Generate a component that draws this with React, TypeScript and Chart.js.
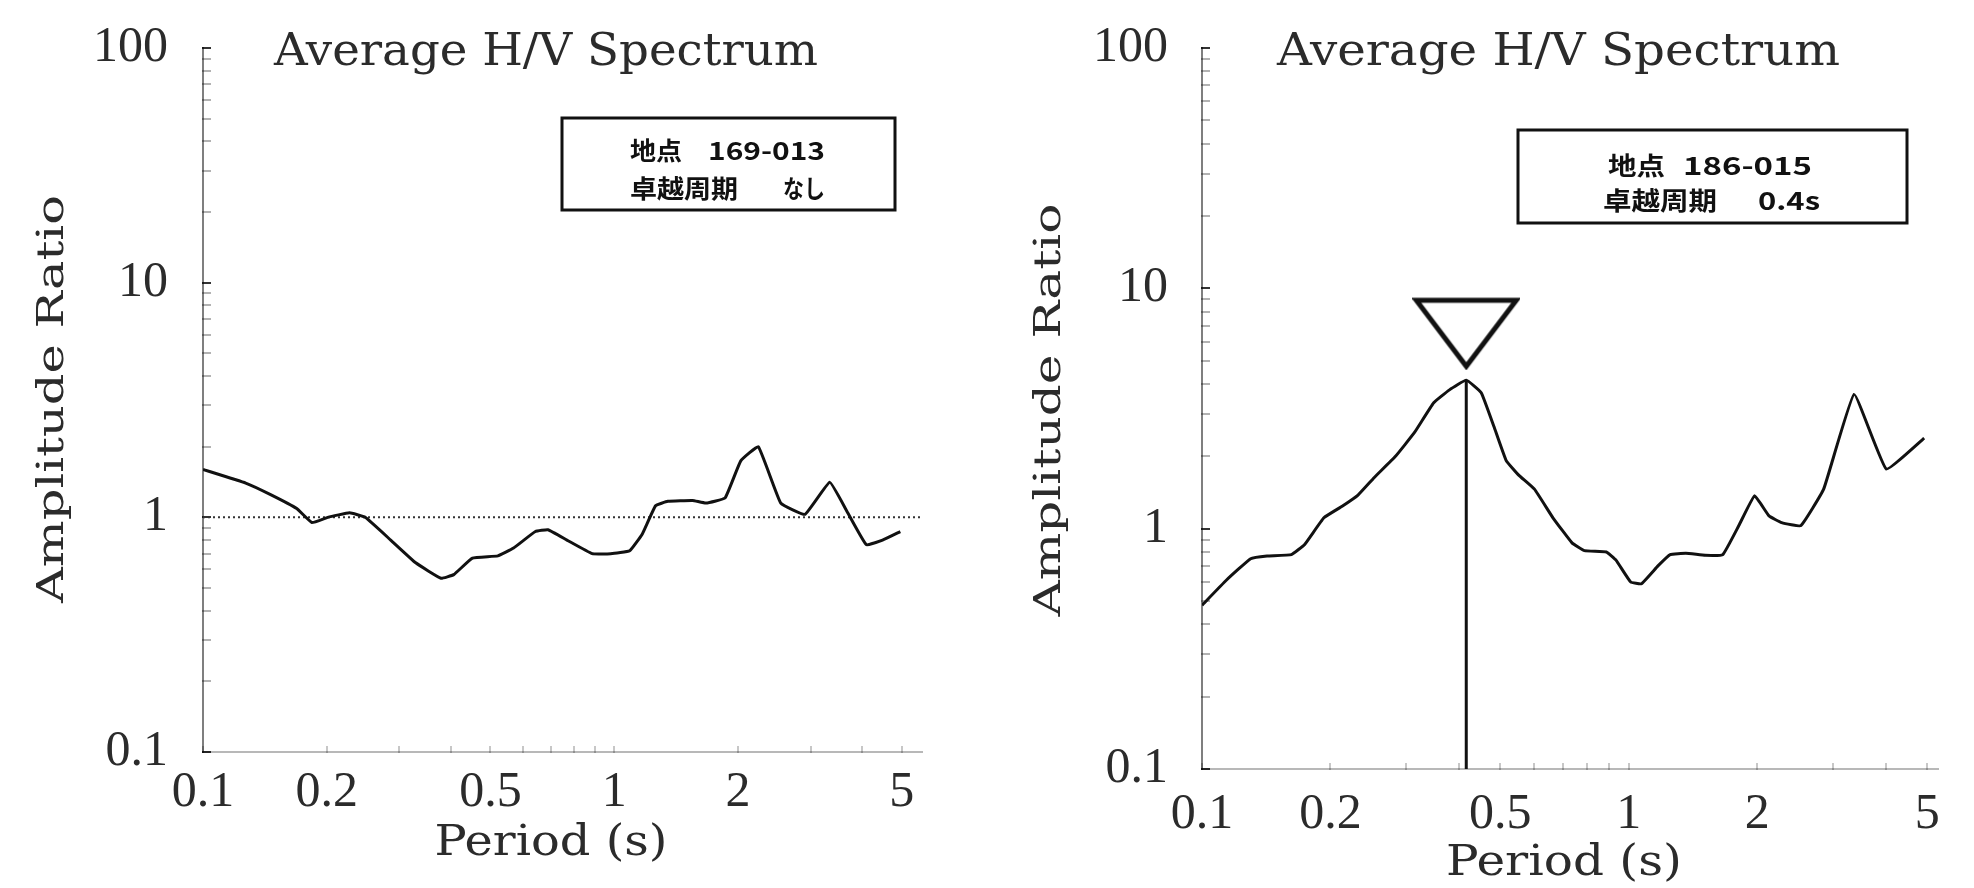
import React, { useEffect, useRef } from "react";
import { Chart, registerables } from "chart.js";

Chart.register(...registerables);

// ---------------- data ----------------
const leftPeriods = [0.1, 0.127, 0.146, 0.169, 0.184, 0.201, 0.227, 0.248, 0.286, 0.329, 0.379, 0.407, 0.452, 0.521, 0.569, 0.643, 0.69, 0.767, 0.884, 0.98, 1.09, 1.17, 1.26, 1.35, 1.55, 1.67, 1.86, 2.03, 2.24, 2.54, 2.91, 3.34, 3.68, 4.1, 4.49, 4.96];
const leftValues = [1.6, 1.4, 1.25, 1.09, 0.95, 1.0, 1.045, 1.0, 0.8, 0.64, 0.55, 0.57, 0.67, 0.685, 0.74, 0.87, 0.885, 0.8, 0.7, 0.7, 0.72, 0.85, 1.12, 1.17, 1.18, 1.15, 1.21, 1.74, 2.0, 1.15, 1.03, 1.41, 1.06, 0.765, 0.8, 0.87];

const rightPeriods = [0.1, 0.114, 0.13, 0.142, 0.162, 0.174, 0.193, 0.213, 0.232, 0.253, 0.284, 0.315, 0.349, 0.38, 0.416, 0.451, 0.483, 0.516, 0.552, 0.601, 0.664, 0.736, 0.787, 0.886, 0.933, 1.01, 1.07, 1.17, 1.25, 1.36, 1.51, 1.66, 1.81, 1.97, 2.13, 2.28, 2.53, 2.86, 3.37, 4.01, 4.92];
const rightValues = [0.48, 0.61, 0.75, 0.77, 0.78, 0.86, 1.11, 1.24, 1.38, 1.63, 2.0, 2.52, 3.34, 3.78, 4.15, 3.68, 2.66, 1.92, 1.67, 1.46, 1.11, 0.873, 0.81, 0.8, 0.74, 0.6, 0.59, 0.7, 0.78, 0.79, 0.775, 0.78, 1.03, 1.37, 1.13, 1.06, 1.03, 1.46, 3.62, 1.77, 2.38];

const yTickValues = [0.1, 1, 10, 100];
const xTickValues = [0.1, 0.2, 0.5, 1, 2, 5];

const leftReferenceLevel = [1];
const rightPeakPeriod = [0.416];
const rightPeakValue = [4.15];
const rightMarkerValue = [6.5];

const titleText = "Average H/V Spectrum";
const xTitleText = "Period (s)";
const yTitleText = "Amplitude Ratio";
const leftInfo = ["地点", "169-013", "卓越周期", "なし"];
const rightInfo = ["地点", "186-015", "卓越周期", "0.4s"];

// ---------------- styling / layout ----------------
const SERIF = '"DejaVu Serif", serif';
const TICKSERIF = '"Liberation Serif", "DejaVu Serif", serif';
const GOTHIC = '"Noto Sans CJK JP", "Noto Sans", sans-serif';
const TEXT = "#2b2b2b";

type Spec = {
  left: number;
  width: number;
  height: number;
  area: { left: number; right: number; top: number; bottom: number };
  xMax: number;
  xTickPad: number;
  yTickPad: number;
  periods: number[];
  values: number[];
  title: { x: number; y: number; w: number };
  xTitle: { x: number; y: number; w: number };
  yTitle: { x: number; y: number; w: number };
  box: { x1: number; y1: number; x2: number; y2: number };
  info: string[];
  infoPos: { y1: number; y2: number; aX: number; aW: number; bR: number; bW: number; cX: number; cW: number; dR: number; dW: number };
  reference: boolean;
  peak: boolean;
};

const leftSpec: Spec = {
  left: 0,
  width: 987,
  height: 888,
  area: { left: 203, right: 922, top: 48, bottom: 752 },
  xMax: 5.6,
  xTickPad: 17,
  yTickPad: 43,
  periods: leftPeriods,
  values: leftValues,
  title: { x: 274, y: 54, w: 544 },
  xTitle: { x: 551, y: 844, w: 233 },
  yTitle: { x: 53, y: 399, w: 408 },
  box: { x1: 562, y1: 118, x2: 895, y2: 210 },
  info: leftInfo,
  infoPos: { y1: 150, y2: 188, aX: 630, aW: 52, bR: 825, bW: 117, cX: 630, cW: 108, dR: 825, dW: 42 },
  reference: true,
  peak: false,
};

const rightSpec: Spec = {
  left: 987,
  width: 987,
  height: 888,
  area: { left: 215, right: 951, top: 48, bottom: 769 },
  xMax: 5.3,
  xTickPad: 22,
  yTickPad: 42,
  periods: rightPeriods,
  values: rightValues,
  title: { x: 290, y: 54, w: 563 },
  xTitle: { x: 577, y: 864, w: 236 },
  yTitle: { x: 63, y: 410, w: 413 },
  box: { x1: 531, y1: 130, x2: 920, y2: 223 },
  info: rightInfo,
  infoPos: { y1: 165, y2: 200, aX: 621, aW: 57, bR: 825, bW: 129, cX: 616, cW: 114, dR: 833, dW: 62 },
  reference: false,
  peak: true,
};

function fitText(
  ctx: CanvasRenderingContext2D,
  text: string,
  x: number,
  y: number,
  width: number,
  font: string,
  align: CanvasTextAlign,
  rotate = 0
) {
  ctx.save();
  ctx.font = font;
  const natural = ctx.measureText(text).width || 1;
  ctx.translate(x, y);
  ctx.rotate(rotate);
  ctx.scale(width / natural, 1);
  ctx.textAlign = align;
  ctx.textBaseline = "middle";
  ctx.fillText(text, 0, 0);
  ctx.restore();
}

const annotPlugin = {
  id: "annot",
  afterDraw(chart: any, _args: any, opts: any) {
    const s: Spec = opts.spec;
    const ctx: CanvasRenderingContext2D = chart.ctx;
    ctx.save();
    ctx.fillStyle = TEXT;
    fitText(ctx, titleText, s.title.x, s.title.y, s.title.w, `44px ${SERIF}`, "left");
    fitText(ctx, xTitleText, s.xTitle.x, s.xTitle.y, s.xTitle.w, `42px ${SERIF}`, "center");
    fitText(ctx, yTitleText, s.yTitle.x, s.yTitle.y, s.yTitle.w, `38px ${SERIF}`, "center", -Math.PI / 2);

    // info box
    ctx.strokeStyle = "#111";
    ctx.lineWidth = 3;
    ctx.strokeRect(s.box.x1, s.box.y1, s.box.x2 - s.box.x1, s.box.y2 - s.box.y1);
    ctx.fillStyle = "#111";
    const f = `bold 25px ${GOTHIC}`;
    const p = s.infoPos;
    fitText(ctx, s.info[0], p.aX, p.y1, p.aW, f, "left");
    fitText(ctx, s.info[1], p.bR, p.y1, p.bW, f, "right");
    fitText(ctx, s.info[2], p.cX, p.y2, p.cW, f, "left");
    fitText(ctx, s.info[3], p.dR, p.y2, p.dW, f, "right");
    ctx.restore();
  },
};

function makeTriangle(): HTMLCanvasElement {
  const c = document.createElement("canvas");
  c.width = 108;
  c.height = 74;
  const g = c.getContext("2d")!;
  g.lineWidth = 5;
  g.lineJoin = "miter";
  g.strokeStyle = "#111";
  g.fillStyle = "#fff";
  g.beginPath();
  g.moveTo(4, 4);
  g.lineTo(104, 4);
  g.lineTo(54, 70);
  g.closePath();
  g.fill();
  g.stroke();
  return c;
}

function decadeTicks(min: number, max: number) {
  const out: { value: number }[] = [];
  for (let e = Math.floor(Math.log10(min)); e <= Math.ceil(Math.log10(max)); e++) {
    for (let m = 1; m <= 9; m++) {
      const v = +(m * Math.pow(10, e)).toPrecision(6);
      if (v >= min * 0.9999 && v <= max * 1.0001) out.push({ value: v });
    }
  }
  return out;
}

function matchTick(list: number[], v: number) {
  const t = list.find((t) => Math.abs(t - v) < t * 1e-6);
  return t === undefined ? "" : String(t);
}

function Panel({ spec }: { spec: Spec }) {
  const ref = useRef<HTMLCanvasElement | null>(null);
  useEffect(() => {
    if (!ref.current) return;
    const s = spec;
    const datasets: any[] = [
      {
        data: s.periods.map((x, i) => ({ x, y: s.values[i] })),
        borderColor: "#111",
        borderWidth: 3,
        pointRadius: 0,
        tension: 0.1,
        fill: false,
      },
    ];
    if (s.reference) {
      datasets.push({
        data: [
          { x: 0.1, y: leftReferenceLevel[0] },
          { x: s.xMax, y: leftReferenceLevel[0] },
        ],
        borderColor: "#333",
        borderWidth: 2,
        borderDash: [2, 3],
        pointRadius: 0,
      });
    }
    if (s.peak) {
      datasets.push({
        data: [
          { x: rightPeakPeriod[0], y: rightPeakValue[0] },
          { x: rightPeakPeriod[0], y: 0.1 },
        ],
        borderColor: "#111",
        borderWidth: 3,
        pointRadius: 0,
      });
      datasets.push({
        data: [{ x: rightPeakPeriod[0], y: rightMarkerValue[0] }],
        showLine: false,
        pointStyle: makeTriangle(),
        pointRadius: 10,
      });
    }
    const chart = new Chart(ref.current, {
      type: "line",
      data: { datasets },
      plugins: [annotPlugin as any],
      options: {
        responsive: false,
        animation: false,
        events: [],
        layout: {
          padding: { left: 0, top: s.area.top, right: s.width - s.area.right, bottom: 0 },
        },
        plugins: {
          legend: { display: false },
          tooltip: { enabled: false },
          annot: { spec: s },
        } as any,
        scales: {
          x: {
            type: "logarithmic",
            min: 0.1,
            max: s.xMax,
            afterBuildTicks: (sc: any) => {
              sc.ticks = decadeTicks(0.1, s.xMax);
            },
            afterFit: (sc: any) => {
              sc.height = s.height - s.area.bottom;
              sc.paddingLeft = 0;
              sc.paddingRight = 0;
              sc.paddingTop = 0;
              sc.paddingBottom = 0;
            },
            border: { display: true, color: "rgba(0,0,0,0.28)", width: 2, dash: [2, 8] },
            grid: {
              drawOnChartArea: false,
              drawTicks: true,
              tickLength: -6,
              color: "rgba(0,0,0,0.22)",
              lineWidth: 2,
            },
            ticks: {
              autoSkip: false,
              maxRotation: 0,
              minRotation: 0,
              padding: s.xTickPad,
              color: TEXT,
              font: { family: TICKSERIF, size: 50 },
              callback: (v: any) => matchTick(xTickValues, Number(v)),
            },
          },
          y: {
            type: "logarithmic",
            min: 0.1,
            max: 100,
            afterBuildTicks: (sc: any) => {
              sc.ticks = decadeTicks(0.1, 100);
            },
            afterFit: (sc: any) => {
              sc.width = s.area.left;
              sc.paddingTop = 0;
              sc.paddingBottom = 0;
              sc.paddingLeft = 0;
              sc.paddingRight = 0;
            },
            border: { display: true, color: "rgba(0,0,0,0.5)", width: 2, dash: [2, 5] },
            grid: {
              drawOnChartArea: false,
              drawTicks: true,
              tickLength: -8,
              lineWidth: 2,
              color: (c: any) =>
                c.tick && matchTick(yTickValues, c.tick.value) !== "" ? "#333" : "rgba(0,0,0,0.3)",
            },
            ticks: {
              autoSkip: false,
              padding: s.yTickPad,
              color: TEXT,
              font: { family: TICKSERIF, size: 50 },
              callback: (v: any) => matchTick(yTickValues, Number(v)),
            },
          },
        },
      } as any,
    });
    return () => chart.destroy();
  }, [spec]);
  return (
    <div style={{ position: "absolute", left: spec.left, top: 0, width: spec.width, height: spec.height }}>
      <canvas ref={ref} width={spec.width} height={spec.height} style={{ display: "block" }} />
    </div>
  );
}

export default function App() {
  return (
    <div
      style={{
        position: "fixed",
        left: 0,
        top: 0,
        width: 1974,
        height: 888,
        background: "#fff",
        overflow: "hidden",
      }}
    >
      <Panel spec={leftSpec} />
      <Panel spec={rightSpec} />
    </div>
  );
}
